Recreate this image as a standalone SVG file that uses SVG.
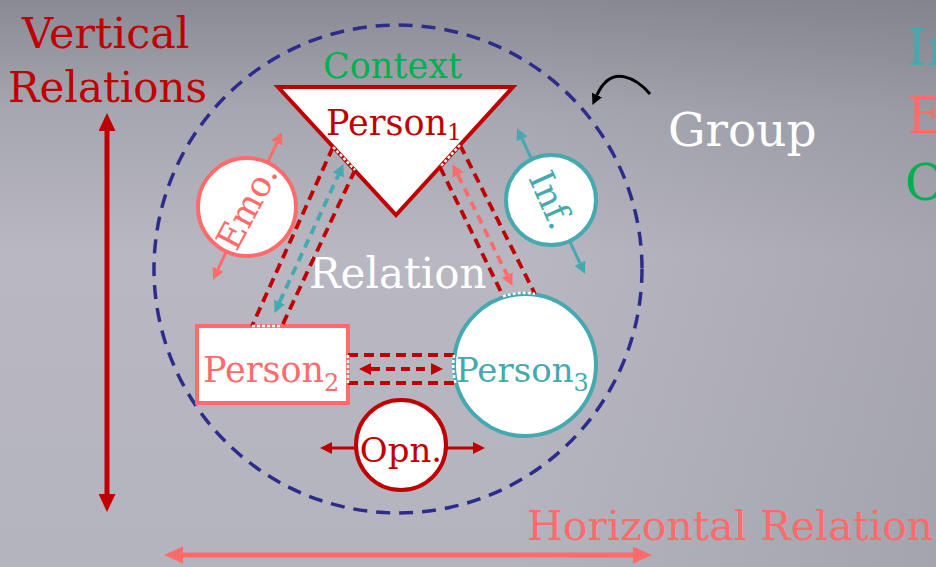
<svg xmlns="http://www.w3.org/2000/svg" width="936" height="567" viewBox="0 0 936 567">
  <defs>
    <linearGradient id="bg" x1="0" y1="0" x2="0" y2="1">
      <stop offset="0" stop-color="#8a8a94"/>
      <stop offset="0.2" stop-color="#a7a7b1"/>
      <stop offset="0.45" stop-color="#b8b7c2"/>
      <stop offset="1" stop-color="#b4b4be"/>
    </linearGradient>
    <linearGradient id="shade" x1="0" y1="0" x2="1" y2="0">
      <stop offset="0" stop-color="#6c6c76" stop-opacity="0"/>
      <stop offset="0.55" stop-color="#6c6c76" stop-opacity="0"/>
      <stop offset="1" stop-color="#6c6c76" stop-opacity="0.22"/>
    </linearGradient>
    <!-- arrowheads: base sits on the line end, tip points outward -->
    <marker id="ah-red-lg" markerUnits="userSpaceOnUse" viewBox="0 0 18 17" markerWidth="18" markerHeight="17" refX="0" refY="8.5" orient="auto-start-reverse">
      <path d="M0,0 L18,8.5 L0,17 z" fill="#c00000"/>
    </marker>
    <marker id="ah-coral-lg" markerUnits="userSpaceOnUse" viewBox="0 0 19 17" markerWidth="19" markerHeight="17" refX="0" refY="8.5" orient="auto-start-reverse">
      <path d="M0,0 L19,8.5 L0,17 z" fill="#ff6b6b"/>
    </marker>
    <marker id="ah-red" markerUnits="userSpaceOnUse" viewBox="0 0 12 12" markerWidth="12" markerHeight="12" refX="0" refY="6" orient="auto-start-reverse">
      <path d="M0,0 L12,6 L0,12 z" fill="#c00000"/>
    </marker>
    <marker id="ah-coral" markerUnits="userSpaceOnUse" viewBox="0 0 12 12" markerWidth="12" markerHeight="12" refX="0" refY="6" orient="auto-start-reverse">
      <path d="M0,0 L12,6 L0,12 z" fill="#ff6b6b"/>
    </marker>
    <marker id="ah-teal" markerUnits="userSpaceOnUse" viewBox="0 0 12 12" markerWidth="12" markerHeight="12" refX="0" refY="6" orient="auto-start-reverse">
      <path d="M0,0 L12,6 L0,12 z" fill="#46a9b0"/>
    </marker>
    <marker id="ah-black" markerUnits="userSpaceOnUse" viewBox="0 0 11 11" markerWidth="11" markerHeight="11" refX="0" refY="5.5" orient="auto">
      <path d="M0,0 L11,5.5 L0,11 z" fill="#000"/>
    </marker>
    <style>
      text { font-family: "DejaVu Serif", "Liberation Serif", serif; }
      .dk { fill: #c00000; }
      .co { fill: #ff6b6b; }
      .te { fill: #46a9b0; }
      .gr { fill: #00b050; }
      .wh { fill: #ffffff; }
      .shape { fill: #ffffff; stroke-width: 4; }
      .s-dk { stroke: #c00000; }
      .s-co { stroke: #ff6b6b; }
      .s-te { stroke: #46a9b0; }
      .link { fill: none; stroke: #c00000; stroke-width: 3.8; stroke-dasharray: 10 6; }
      .dashed-arrow { fill: none; stroke-width: 3.8; stroke-dasharray: 9 6; }
      .port { fill: none; stroke: #ffffff; stroke-width: 2.5; stroke-dasharray: 3 2; }
      .axis { fill: none; stroke-width: 5; }
      .thin { fill: none; stroke-width: 3; }
    </style>
  </defs>

  <!-- backdrop -->
  <rect width="936" height="567" fill="url(#bg)"/>
  <rect width="936" height="567" fill="url(#shade)"/>

  <!-- group boundary -->
  <g id="group-boundary">
    <circle cx="398" cy="269" r="244" fill="none" stroke="#2c2c8c" stroke-width="3.5" stroke-dasharray="14 9"/>
    <path d="M650,94 C638,80 612,62 597,95" fill="none" stroke="#000" stroke-width="3" marker-end="url(#ah-black)"/>
    <text x="668" y="146" font-size="47" class="wh">Group</text>
  </g>

  <!-- axes -->
  <g id="vertical-axis">
    <line x1="107" y1="131" x2="107" y2="494" class="axis" stroke="#c00000" marker-start="url(#ah-red-lg)" marker-end="url(#ah-red-lg)"/>
    <text x="22" y="48" font-size="43" class="dk">Vertical</text>
    <text x="8" y="102" font-size="42" class="dk">Relations</text>
  </g>
  <g id="horizontal-axis">
    <line x1="183" y1="555" x2="633" y2="555" class="axis" stroke="#ff6b6b" marker-start="url(#ah-coral-lg)" marker-end="url(#ah-coral-lg)"/>
    <text x="527" y="540" font-size="41" class="co">Horizontal Relation</text>
  </g>

  <!-- legend, running off the right edge -->
  <g id="legend">
    <text x="907" y="65" font-size="50" class="te">In</text>
    <text x="907" y="133" font-size="50" class="co">E</text>
    <text x="905" y="200" font-size="50" class="gr">O</text>
  </g>

  <!-- nodes -->
  <g id="person1">
    <text x="323" y="78" font-size="35" class="gr">Context</text>
    <polygon points="278,87 513,87 396,215" class="shape s-dk" stroke-linejoin="miter"/>
    <text x="326" y="135" font-size="35" class="dk">Person<tspan font-size="23" dy="5">1</tspan></text>
  </g>

  <g id="person2">
    <rect x="197" y="326" width="151" height="77" class="shape s-co"/>
    <text x="203" y="382" font-size="35" class="co">Person<tspan font-size="24" dy="9">2</tspan></text>
  </g>

  <g id="person3">
    <circle cx="525" cy="365" r="71" class="shape s-te"/>
    <text x="456" y="382" font-size="34" class="te">Person<tspan font-size="24" dy="9">3</tspan></text>
  </g>

  <g id="emotion">
    <line x1="218.1" y1="269.1" x2="276.9" y2="142.9" class="thin" stroke="#ff6b6b" marker-start="url(#ah-coral)" marker-end="url(#ah-coral)"/>
    <circle cx="247" cy="207" r="49" class="shape s-co"/>
    <g transform="translate(247,207) rotate(-62)">
      <text x="0" y="12" font-size="35" text-anchor="middle" class="co">Emo.</text>
    </g>
  </g>

  <g id="information">
    <line x1="522.1" y1="138.9" x2="579.9" y2="263.1" class="thin" stroke="#46a9b0" marker-start="url(#ah-teal)" marker-end="url(#ah-teal)"/>
    <circle cx="551" cy="200" r="45" class="shape s-te"/>
    <g transform="translate(551,200) rotate(66)">
      <text x="0" y="12" font-size="35" text-anchor="middle" class="te">Inf.</text>
    </g>
  </g>

  <g id="opinion">
    <line x1="332" y1="448" x2="473" y2="448" class="thin" stroke="#c00000" stroke-width="3.5" marker-start="url(#ah-red)" marker-end="url(#ah-red)"/>
    <circle cx="401" cy="445" r="45" class="shape s-dk"/>
    <text x="401" y="462" font-size="34" text-anchor="middle" class="dk">Opn.</text>
  </g>

  <g id="relation-label">
    <text x="309" y="288" font-size="42" class="wh">Relation</text>
  </g>

  <!-- connectors -->
  <g id="connectors">
    <!-- Person1 to Person2 -->
    <line x1="333" y1="147" x2="252" y2="326" class="link"/>
    <line x1="355" y1="170" x2="282" y2="326" class="link"/>
    <line x1="279.6" y1="302" x2="338.4" y2="175" class="dashed-arrow" stroke="#46a9b0" marker-start="url(#ah-teal)" marker-end="url(#ah-teal)"/>
    <!-- Person1 to Person3 -->
    <line x1="460" y1="145" x2="535" y2="294" class="link"/>
    <line x1="440" y1="167" x2="503" y2="296" class="link"/>
    <line x1="457.9" y1="174.9" x2="507.2" y2="275.1" class="dashed-arrow" stroke="#ff6b6b" marker-start="url(#ah-coral)" marker-end="url(#ah-coral)"/>
    <!-- Person2 to Person3 -->
    <line x1="348" y1="355" x2="454" y2="355" class="link"/>
    <line x1="348" y1="383" x2="455" y2="383" class="link"/>
    <line x1="371" y1="369" x2="431" y2="369" class="dashed-arrow" stroke="#c00000" marker-start="url(#ah-red)" marker-end="url(#ah-red)"/>
    <!-- open ports where the links meet the node borders -->
    <line x1="333" y1="147" x2="355" y2="170" class="port"/>
    <line x1="460" y1="145" x2="440" y2="167" class="port"/>
    <line x1="252" y1="326" x2="282" y2="326" class="port"/>
    <path d="M503,296.4 A71,71 0 0 1 535,293.7" class="port"/>
    <line x1="348" y1="355" x2="348" y2="383" class="port"/>
    <path d="M454,355 A71,71 0 0 0 455.5,383" class="port"/>
  </g>
</svg>
